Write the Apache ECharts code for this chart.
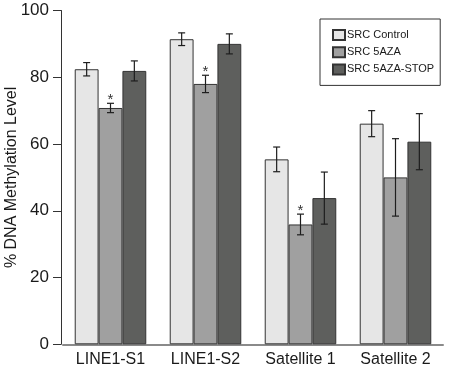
<!DOCTYPE html>
<html>
<head>
<meta charset="utf-8">
<script src="https://cdn.jsdelivr.net/npm/echarts@6/dist/echarts.min.js"></script>
<style>html,body{margin:0;padding:0;background:#fff}#c{width:451px;height:369px}</style>
</head>
<body>
<div id="c"></div>
<script>
const categories = ['LINE1-S1', 'LINE1-S2', 'Satellite 1', 'Satellite 2'];
const seriesNames = ['SRC Control', 'SRC 5AZA', 'SRC 5AZA-STOP'];
const controlValues = [82.4, 91.4, 55.4, 66.1];
const controlErrors = [2.0, 1.9, 3.7, 3.9];
const azaValues = [70.8, 78.0, 35.9, 50.0];
const azaErrors = [1.4, 2.6, 3.1, 11.6];
const stopValues = [81.9, 90.0, 43.8, 60.7];
const stopErrors = [3.0, 3.0, 7.8, 8.4];
const controlSig = [0, 0, 0, 0];
const azaSig = [1, 1, 1, 0];
const stopSig = [0, 0, 0, 0];
const yTicks = [0, 20, 40, 60, 80, 100];

const FONT = 'Liberation Sans, Arial, sans-serif';
const colors = ['#e6e6e6', '#a0a0a0', '#5e5f5d'];
const gapRatio = 0.247;
const valuesList = [controlValues, azaValues, stopValues];
const errorsList = [controlErrors, azaErrors, stopErrors];
const sigList = [controlSig, azaSig, stopSig];

const chart = echarts.init(document.getElementById('c'), null, {renderer: 'canvas'});

const barSeries = seriesNames.map((name, k) => ({
  name: name,
  type: 'bar',
  data: valuesList[k],
  barGap: '0%',
  barCategoryGap: (gapRatio * 100) + '%',
  itemStyle: {color: colors[k], borderColor: '#333', borderWidth: 1},
  emphasis: {disabled: true},
  z: 2
}));

const errSeries = seriesNames.map((name, k) => ({
  name: name + ' err',
  type: 'custom',
  z: 5,
  encode: {x: 0, y: 1},
  data: categories.map((c, i) => [i, valuesList[k][i], errorsList[k][i], sigList[k][i]]),
  renderItem: function (params, api) {
    const idx = api.value(0), v = api.value(1), e = api.value(2), s = api.value(3);
    const cw = api.size([1, 0])[0];
    const bw = cw * (1 - gapRatio) / 3;
    const off = (k - 1) * bw;
    const hi = api.coord([idx, v + e]);
    const lo = api.coord([idx, v - e]);
    const x = hi[0] + off;
    const st = {stroke: '#1e1e1e', lineWidth: 1.2};
    const children = [
      {type: 'line', shape: {x1: x, y1: hi[1], x2: x, y2: lo[1]}, style: st},
      {type: 'line', shape: {x1: x - 3.5, y1: hi[1], x2: x + 3.5, y2: hi[1]}, style: st},
      {type: 'line', shape: {x1: x - 3.5, y1: lo[1], x2: x + 3.5, y2: lo[1]}, style: st}
    ];
    if (s) {
      children.push({type: 'text', style: {text: '*', x: x, y: hi[1] - 3, align: 'center', verticalAlign: 'middle', fill: '#333', font: '15px ' + FONT}});
    }
    return {type: 'group', children: children};
  }
}));

chart.setOption({
  animation: false,
  backgroundColor: '#fff',
  grid: {left: 63, width: 380, top: 10.5, bottom: 24.7, containLabel: false, outerBoundsMode: 'none'},
  legend: {
    data: seriesNames,
    orient: 'vertical',
    icon: 'rect',
    left: 320,
    top: 19,
    padding: [10, 6, 10, 12],
    itemWidth: 12,
    itemHeight: 10,
    itemGap: 5.2,
    borderColor: '#333',
    borderWidth: 1,
    textStyle: {fontFamily: FONT, fontSize: 11, color: '#1a1a1a', padding: [0, 0, 0, -3]},
    selectedMode: false
  },
  xAxis: {
    type: 'category',
    data: categories,
    axisLine: {lineStyle: {color: '#8a8a8a', width: 2}},
    axisTick: {show: false},
    axisLabel: {fontFamily: FONT, fontSize: 16, color: '#1a1a1a', margin: 7}
  },
  yAxis: {
    type: 'value',
    min: 0,
    max: 100,
    interval: 20,
    offset: 2,
    name: '% DNA Methylation Level',
    nameLocation: 'middle',
    nameGap: 41,
    nameMoveOverlap: false,
    nameTextStyle: {fontFamily: FONT, fontSize: 16, color: '#1a1a1a'},
    axisLine: {show: true, lineStyle: {color: '#333', width: 1}},
    axisTick: {show: true, length: 8, lineStyle: {color: '#333'}},
    splitLine: {show: false},
    axisLabel: {fontFamily: FONT, fontSize: 17, color: '#1a1a1a', margin: 12,
      formatter: function (v) { return yTicks.indexOf(v) >= 0 ? String(v) : ''; }}
  },
  series: barSeries.concat(errSeries)
});
</script>
</body>
</html>
